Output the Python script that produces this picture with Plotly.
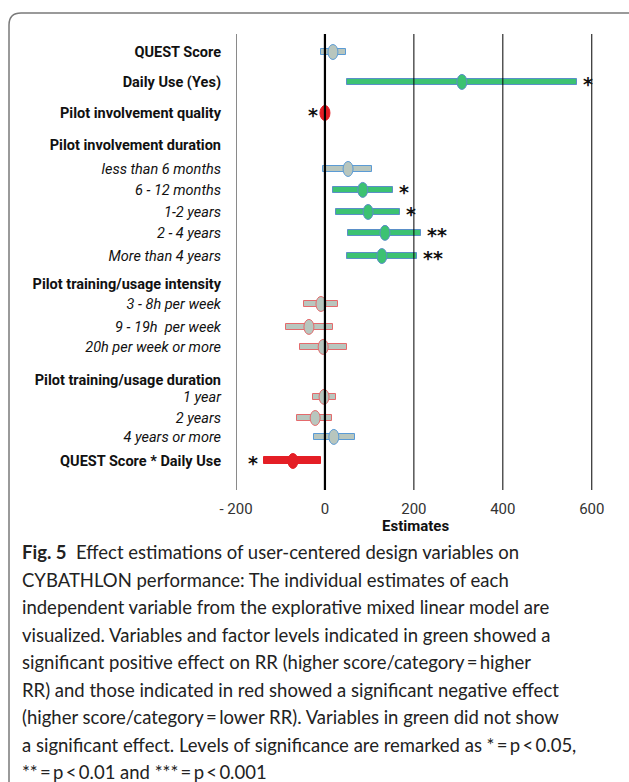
import plotly.graph_objects as go

# ---- data -------------------------------------------------------------
labels = [
    "QUEST Score", "Daily Use (Yes)", "Pilot involvement quality",
    "Pilot involvement duration",
    "less than 6 months", "6 - 12 months", "1-2 years", "2 - 4 years", "More than 4 years",
    "Pilot training/usage intensity",
    "3 - 8h per week", "9 - 19h  per week", "20h per week or more",
    "Pilot training/usage duration",
    "1 year", "2 years", "4 years or more",
    "QUEST Score * Daily Use",
]
row_kind = ["var", "var", "var", "head",
            "level", "level", "level", "level", "level", "head",
            "level", "level", "level", "head",
            "level", "level", "level", "var"]
estimate = [18, 308, 0, None, 52, 85, 97, 135, 128, None, -9, -36, -4, None, -2, -22, 20, -72]
ci_low = [-9, 49, -2, None, -4, 18, 25, 52, 49, None, -47, -88, -56, None, -27, -63, -25, -137]
ci_high = [47, 566, 2, None, 106, 153, 169, 216, 207, None, 29, 18, 49, None, 25, 16, 67, -9]
effect = ["ns+", "pos", "neg", None, "ns+", "pos", "pos", "pos", "pos", None,
          "ns-", "ns-", "ns-", None, "ns-", "ns-", "ns+", "neg"]
signif = ["", "*", "*", "", "", "*", "*", "**", "**", "", "", "", "", "", "", "", "", "*"]

x_ticks = [-200, 0, 200, 400, 600]
x_tick_text = ["- 200", "0", "200", "400", "600"]

caption = [
    "<b>Fig. 5</b>  Effect estimations of user-centered design variables on",
    "CYBATHLON performance: The individual estimates of each",
    "independent variable from the explorative mixed linear model are",
    "visualized. Variables and factor levels indicated in green showed a",
    "significant positive effect on RR (higher score/category\u2009=\u2009higher",
    "RR) and those indicated in red showed a significant negative effect",
    "(higher score/category\u2009=\u2009lower RR). Variables in green did not show",
    "a significant effect. Levels of significance are remarked as *\u2009=\u2009p\u2009<\u20090.05,",
    "**\u2009=\u2009p\u2009<\u20090.01 and ***\u2009=\u2009p\u2009<\u20090.001",
]

# ---- layout helpers ---------------------------------------------------
# vertical slot of each row (row units, top to bottom)
row_pos = [0, 1.33, 2.71, 4.13, 5.2, 6.13, 7.11, 8.04, 9.07, 10.31,
           11.2, 12.22, 13.11, 14.58, 15.33, 16.27, 17.11, 18.18]

styles = {
    "ns+": dict(fill="#b8c6be", line="#5b9bd5", h=0.27),
    "ns-": dict(fill="#b8c6be", line="#e46a6c", h=0.27),
    "pos": dict(fill="#3cc272", line="#5a8fc8", h=0.27),
    "neg": dict(fill="#e41e25", line="#e41e25", h=0.31),
}

LABEL_FONT = "Liberation Sans Narrow, Roboto, sans-serif"
STAR_FONT = dict(family="DejaVu Sans", size=19, color="#111")
W, H = 629, 782
L, R, T, B = 236, 35, 34, 292
pw, ph = W - L - R, H - T - B


def px_x(p):
    return (p - L) / pw


def px_y(p):
    return (H - B - p) / ph


def fmt_label(text, kind):
    if kind == "level":
        return f"<i>{text}</i>"
    return f"<b>{text}</b>"


idx = [i for i, e in enumerate(effect) if e is not None]

fig = go.Figure()
fig.add_trace(go.Bar(
    orientation="h",
    y=[row_pos[i] for i in idx],
    base=[ci_low[i] for i in idx],
    x=[ci_high[i] - ci_low[i] for i in idx],
    width=[styles[effect[i]]["h"] for i in idx],
    marker=dict(
        color=[styles[effect[i]]["fill"] for i in idx],
        line=dict(color=[styles[effect[i]]["line"] for i in idx], width=1),
    ),
    hoverinfo="skip",
    showlegend=False,
))

shapes = []
# point estimates drawn as upright ellipses
for i in idx:
    st = styles[effect[i]]
    shapes.append(dict(
        type="circle", xref="x", yref="y",
        xsizemode="pixel", ysizemode="pixel",
        xanchor=estimate[i], yanchor=row_pos[i],
        x0=-5, x1=5, y0=-7.5, y1=7.5,
        fillcolor=st["fill"], line=dict(color=st["line"], width=1),
    ))

# reference lines at the tick values
for t in x_ticks:
    if t == x_ticks[0]:
        col, wd = "#8a8a8a", 2
    elif t == 0:
        col, wd = "#000000", 2.2
    else:
        col, wd = "#000000", 1
    shapes.append(dict(type="line", xref="x", yref="paper", x0=t, x1=t, y0=0, y1=1,
                       line=dict(color=col, width=wd)))

# rounded frame around figure and caption
r = 12
shapes.append(dict(
    type="path", xref="paper", yref="paper",
    path=(f"M {px_x(9)},{px_y(800)} L {px_x(9)},{px_y(13 + r)} "
          f"Q {px_x(9)},{px_y(13)} {px_x(9 + r)},{px_y(13)} L {px_x(650)},{px_y(13)}"),
    line=dict(color="#7a7a7a", width=1.5),
))

annotations = []
# significance markers
for i in idx:
    if not signif[i]:
        continue
    if effect[i] == "neg":
        annotations.append(dict(x=ci_low[i], y=row_pos[i], xref="x", yref="y",
                                text=f"<b>{signif[i]}</b>", showarrow=False,
                                xanchor="right", yanchor="middle",
                                xshift=-4, yshift=-2, font=STAR_FONT))
    else:
        annotations.append(dict(x=ci_high[i], y=row_pos[i], xref="x", yref="y",
                                text=f"<b>{signif[i]}</b>", showarrow=False,
                                xanchor="left", yanchor="middle",
                                xshift=4, yshift=-2, font=STAR_FONT))

annotations.append(dict(x=0.5, y=px_y(526), xref="paper", yref="paper",
                        xanchor="center", yanchor="middle",
                        text="<b>Estimates</b>", showarrow=False,
                        font=dict(family=LABEL_FONT, size=15, color="#111")))

for k, line in enumerate(caption):
    annotations.append(dict(x=px_x(20), y=px_y(552 + 27.5 * k), xref="paper", yref="paper",
                            xanchor="left", yanchor="middle", align="left",
                            text=line, showarrow=False,
                            font=dict(family="Lato, sans-serif", size=18.5, color="#222")))

fig.update_layout(
    width=W, height=H,
    margin=dict(l=L, r=R, t=T, b=B, pad=0),
    paper_bgcolor="white", plot_bgcolor="white",
    shapes=shapes, annotations=annotations,
    xaxis=dict(range=[-200, 605], tickvals=x_ticks, ticktext=x_tick_text,
               showgrid=False, zeroline=False, showline=False, ticks="",
               ticklabelstandoff=8,
               tickfont=dict(family=LABEL_FONT, size=15, color="#333")),
    yaxis=dict(range=[19.47, -0.8], tickvals=row_pos,
               ticktext=[fmt_label(t, k) for t, k in zip(labels, row_kind)],
               showgrid=False, zeroline=False, showline=False, ticks="",
               ticklabelstandoff=14,
               tickfont=dict(family=LABEL_FONT, size=14.5, color="#111")),
    bargap=0,
)

fig.write_html("out.html")
